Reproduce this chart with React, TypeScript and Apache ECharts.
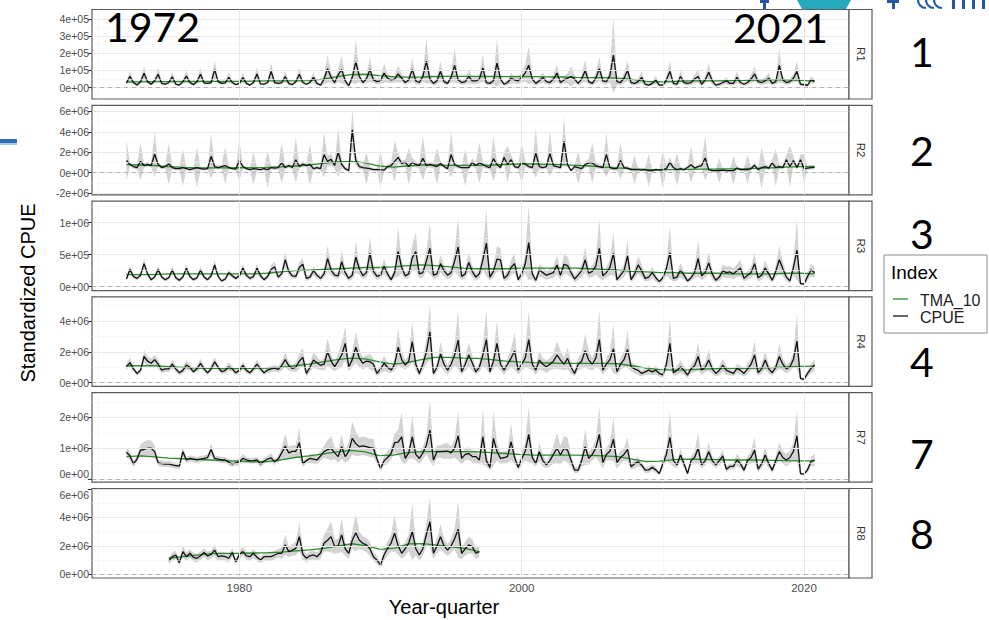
import React, { useEffect, useRef } from "react";
import * as echarts from "echarts";

// ---------------- DATA (quarterly, one line per year, Q1..Q4) ----------------
// R1 values in units of 1e4
const R1_START = 1972;
const R1_CPUE = [
  2.7, 6.6, 3.0, 1.5, 3.5, 8.4, 3.5, 2.0, 4.0, 7.8, 2.5, 2.0, 3.0, 6.3, 2.0, 1.5,
  3.5, 6.7, 3.0, 1.8, 3.5, 7.8, 2.8, 2.5, 3.0, 10.5, 3.5, 2.5, 2.8, 6.0, 3.0, 1.8,
  2.5, 5.8, 2.5, 1.5, 3.0, 8.0, 2.2, 2.0, 3.0, 9.5, 3.0, 2.5, 3.0, 6.5, 2.5, 1.8,
  3.5, 7.8, 3.0, 2.0, 3.0, 6.0, 2.5, 1.5, 5.0, 11.0, 6.0, 3.0, 7.5, 10.5, 4.0, 1.2,
  6.0, 15.0, 6.5, 3.0, 5.0, 10.5, 4.5, 3.5, 4.0, 8.5, 5.5, 4.5, 5.0, 8.0, 5.5, 3.0,
  4.5, 10.5, 4.0, 3.0, 6.5, 15.5, 5.0, 2.5, 4.0, 9.5, 3.5, 2.5, 6.0, 13.0, 4.5, 3.0,
  3.5, 6.5, 4.0, 4.0, 5.0, 11.5, 3.0, 2.5, 4.0, 14.5, 5.0, 2.0, 3.0, 5.5, 4.5, 4.0,
  6.0, 8.5, 13.0, 5.0, 2.5, 4.0, 6.0, 3.5, 3.0, 5.0, 8.5, 3.0, 4.5, 5.5, 6.5, 5.0,
  2.5, 5.0, 10.0, 3.5, 2.5, 5.5, 11.0, 4.0, 3.5, 7.0, 19.0, 3.5, 3.0, 5.5, 10.0, 3.0,
  2.5, 3.5, 6.0, 2.0, 1.5, 2.5, 4.5, 1.5, 1.5, 4.5, 9.5, 2.5, 2.0, 6.5, 3.0, 2.5,
  3.0, 5.0, 6.5, 2.0, 4.5, 9.0, 4.0, 1.5, 2.0, 3.0, 4.0, 2.5, 2.5, 6.0, 3.0, 2.0,
  3.0, 5.0, 8.0, 3.5, 3.0, 4.0, 5.5, 2.5, 3.5, 13.0, 4.5, 3.0, 3.5, 5.5, 9.5, 2.0,
  1.7, 1.4, 4.6, 3.7,
];
const R1_CI = [
  1.0, 3.0, 1.2, 0.8, 1.2, 4.0, 1.2, 0.8, 1.5, 4.0, 1.0, 0.8, 1.0, 3.0, 0.8, 0.6,
  1.2, 3.5, 1.0, 0.8, 1.2, 4.0, 1.0, 0.8, 1.0, 5.5, 1.2, 0.8, 1.0, 3.0, 1.0, 0.6,
  1.0, 3.0, 1.0, 0.6, 1.0, 4.0, 0.8, 0.8, 1.0, 5.0, 1.0, 0.8, 1.0, 3.5, 1.0, 0.6,
  1.2, 4.0, 1.0, 0.8, 1.0, 3.0, 1.0, 0.6, 3.0, 8.0, 3.0, 1.5, 4.0, 8.0, 2.5, 1.0,
  3.0, 13.0, 3.0, 1.5, 2.5, 7.0, 2.0, 1.5, 2.0, 5.5, 2.5, 2.0, 2.0, 5.0, 2.5, 1.5,
  2.0, 7.0, 2.0, 1.5, 3.0, 13.0, 2.5, 1.2, 2.0, 6.0, 1.5, 1.2, 3.0, 10.0, 2.0, 1.5,
  1.5, 4.0, 2.0, 2.0, 2.5, 8.0, 1.5, 1.2, 2.0, 14.0, 2.5, 1.0, 1.5, 3.0, 2.0, 2.0,
  3.0, 5.0, 11.0, 2.5, 1.2, 2.0, 3.0, 1.5, 1.5, 2.5, 5.0, 1.5, 2.0, 3.0, 6.0, 2.5,
  1.2, 2.5, 6.5, 1.5, 1.2, 3.0, 7.0, 2.0, 1.5, 4.0, 22.0, 2.0, 1.5, 3.0, 6.0, 1.5,
  1.2, 1.8, 3.5, 1.0, 0.8, 1.2, 2.5, 0.8, 0.8, 2.5, 6.0, 1.2, 1.0, 3.5, 1.5, 1.2,
  1.5, 2.5, 4.0, 1.0, 2.0, 5.0, 2.0, 0.8, 1.0, 1.5, 2.0, 1.2, 1.2, 3.5, 1.5, 1.0,
  1.5, 2.5, 4.5, 1.5, 1.5, 2.0, 3.0, 1.2, 1.5, 10.0, 2.0, 1.5, 1.5, 2.5, 6.0, 1.0,
  0.8, 0.8, 2.0, 1.5,
];
const R1_TMA = [
  3.3, 3.4, 3.5, 3.5, 3.6, 3.6, 3.7, 3.7, 3.7, 3.8, 3.9, 4.0, 4.0, 4.1, 5.0, 6.4,
  7.6, 7.8, 7.0, 6.4, 6.1, 6.2, 6.5, 6.6, 6.6, 6.6, 6.5, 6.4, 6.5, 6.4, 6.3, 6.2,
  6.0, 5.9, 5.8, 5.5, 4.8, 3.6, 3.4, 3.6, 3.9, 4.0, 4.0, 4.1, 4.2, 4.4, 4.6, 4.6,
  4.2, 3.8,
];

// R2 values in units of 1e5
const R2_START = 1972;
const R2_CPUE = [
  12, 8, 6, 5, 11, 7, 8, 7, 18, 8, 5, 6, 8.5, 5, 4, 4,
  5, 4, 3, 4, 5, 4, 3.5, 4, 16, 6, 5, 6, 7, 5, 4, 3.5,
  12, 6, 4, 3, 4, 3.5, 3, 4, 3, 5, 4.5, 5, 9.5, 5, 7, 5,
  12.7, 6, 8.5, 7, 8, 4, 5, 4, 17.6, 11, 13, 7, 20, 8, 4, 2,
  42, 12, 6, 5, 4.5, 4, 3, 3, 3, 2.5, 6, 7, 11, 15, 9, 10,
  6, 10, 8, 7, 14, 7, 8, 7, 6, 9, 6, 4, 17.6, 8, 6, 5,
  5, 5, 10, 7, 9.5, 8, 6, 5, 13.7, 8, 5, 15, 8, 12.7, 6, 5,
  9.5, 8.5, 6, 5, 19, 6, 5, 6, 18.6, 7, 6, 5, 30.7, 8, 2, 6,
  5, 4, 8, 9.5, 9.5, 7, 6, 5, 17.6, 5, 4, 4, 11.8, 5, 4.5, 3,
  3, 3, 2.5, 3, 2, 2, 3, 2.5, 3, 4, 10, 5, 3, 4, 3, 5,
  7.8, 4.5, 6, 7, 14.4, 3, 2, 2, 2, 2.5, 2, 2, 2, 4.5, 3, 3,
  3, 4, 7.2, 3, 5, 6, 4.5, 9.5, 5, 6, 5, 12.7, 6, 11.8, 5, 12.7,
  4, 4.5, 5, 5.2,
];
const R2_CI = [
  20, 2, 2, 2, 18, 2, 2, 2, 22, 2, 1.5, 2, 20, 2, 1.5, 1.5,
  18, 1.5, 1.5, 1.5, 20, 1.5, 1.5, 1.5, 22, 2, 2, 2, 18, 2, 1.5, 1.5,
  20, 2, 1.5, 1.5, 16, 1.5, 1.5, 1.5, 18, 2, 2, 2, 20, 2, 2, 2,
  22, 2, 3, 2, 20, 2, 2, 2, 22, 5, 6, 3, 24, 4, 2, 1,
  20, 5, 3, 2, 16, 2, 1.5, 1.5, 18, 1.5, 2.5, 3, 20, 5, 3, 3,
  18, 4, 3, 3, 22, 3, 3, 3, 18, 3, 2, 2, 22, 3, 2, 2,
  18, 2, 4, 3, 20, 3, 2, 2, 22, 3, 2, 5, 18, 5, 2, 2,
  20, 3, 2, 2, 24, 3, 2, 2, 22, 3, 2, 2, 24, 3, 1, 2,
  16, 2, 3, 4, 20, 3, 2, 2, 22, 2, 2, 2, 18, 2, 2, 1.5,
  14, 1.5, 1, 1.5, 16, 1, 1.5, 1, 18, 2, 5, 2, 16, 2, 1.5, 2,
  18, 2, 2, 3, 22, 1.5, 1, 1, 12, 1, 1, 1, 14, 2, 1.5, 1.5,
  14, 1.5, 3, 1.5, 20, 2.5, 2, 4, 18, 2.5, 2, 5, 20, 4, 2, 5,
  14, 2, 2, 2,
];
const R2_TMA = [
  7.8, 7.5, 7.0, 6.0, 5.2, 4.8, 4.6, 4.6, 4.8, 5.0, 5.2, 5.6, 6.5, 7.5, 9.0, 10.5,
  11.0, 9.5, 6.5, 5.5, 6.5, 7.5, 7.5, 7.2, 7.2, 7.2, 7.5, 8.0, 8.5, 8.5, 8.2, 7.8,
  7.2, 6.5, 5.5, 4.6, 3.8, 3.2, 3.0, 3.0, 3.2, 3.5, 3.6, 3.8, 4.0, 4.3, 4.8, 5.5,
  6.0, 6.2,
];

// R3 values in units of 1e4
const R3_START = 1972;
const R3_CPUE = [
  12, 27, 16, 13, 18, 36, 20, 11, 15, 27, 15, 11, 14, 26, 14, 10,
  15, 29, 16, 11, 14, 26, 15, 11, 17, 34, 16, 9, 12, 22, 17, 13,
  17, 29, 18, 13, 16, 29, 17, 11, 16, 27, 31, 15, 20, 42, 24, 17,
  16, 30, 35, 13, 15, 25, 18, 13, 20, 44, 26, 18, 17, 39, 22, 13,
  18, 46, 28, 17, 22, 52, 24, 16, 18, 32, 20, 11, 22, 55, 30, 17,
  20, 45, 55, 20, 22, 40, 60, 18, 20, 36, 25, 18, 22, 40, 62, 16,
  20, 38, 24, 15, 20, 42, 68, 15, 24, 43, 42, 13, 18, 30, 36, 11,
  20, 35, 69, 20, 10, 26, 22, 18, 20, 22, 34, 18, 35, 33, 22, 12,
  18, 25, 42, 21, 24, 32, 60, 17, 22, 30, 52, 11, 18, 25, 48, 11,
  20, 34, 25, 13, 15, 22, 14, 8, 14, 28, 53, 13, 15, 26, 18, 9,
  14, 22, 44, 17, 22, 37, 20, 10, 15, 25, 22, 23, 20, 25, 29, 13,
  18, 22, 36, 14, 18, 29, 20, 10, 24, 42, 28, 15, 9, 30, 57, 5,
  4, 16, 26, 22,
];
const R3_CI = [
  3, 6, 3, 3, 4, 8, 4, 3, 3, 6, 3, 3, 3, 6, 3, 3,
  3, 6, 3, 3, 3, 6, 3, 3, 4, 8, 3, 2, 3, 5, 4, 3,
  4, 6, 4, 3, 4, 7, 4, 3, 4, 7, 8, 4, 5, 12, 6, 4,
  4, 8, 10, 4, 4, 7, 5, 4, 6, 20, 8, 5, 5, 18, 7, 4,
  6, 25, 9, 5, 7, 26, 8, 5, 6, 12, 7, 4, 8, 39, 10, 5,
  7, 20, 30, 7, 8, 16, 40, 6, 7, 14, 9, 6, 8, 16, 45, 6,
  7, 15, 9, 6, 7, 16, 52, 6, 9, 20, 18, 5, 7, 12, 15, 4,
  8, 14, 59, 8, 4, 10, 8, 7, 8, 9, 15, 7, 15, 14, 8, 5,
  7, 10, 20, 8, 9, 13, 47, 7, 8, 12, 34, 4, 7, 10, 25, 4,
  8, 14, 10, 5, 6, 9, 6, 3, 5, 11, 41, 5, 6, 11, 7, 3,
  5, 9, 28, 7, 8, 17, 8, 4, 6, 10, 9, 9, 8, 10, 13, 5,
  7, 9, 17, 6, 7, 12, 8, 4, 9, 22, 11, 6, 4, 12, 47, 2,
  2, 7, 10, 8,
];
const R3_TMA = [
  19, 19, 19, 20, 20, 20, 20, 20, 20, 20, 21, 23, 25, 26, 27, 28,
  29, 30, 30, 31, 33, 34, 33, 31, 29, 28, 28, 28, 29, 29, 29, 29,
  29, 28, 27, 26, 24, 23, 22, 22, 21, 21, 21, 20, 20, 20, 20, 21,
  21, 20,
];

// R4 values in units of 1e5
const R4_START = 1972;
const R4_CPUE = [
  10.4, 13, 9, 6, 8, 17, 14, 12.6, 15, 12, 8.2, 9, 9, 12, 9, 6.5,
  8, 11.5, 10, 7.1, 9, 12.5, 9, 6.5, 9, 13.6, 10, 7.1, 8, 10.4, 9, 6.5,
  8, 11.3, 8, 6.5, 9, 12, 9, 6.5, 8.2, 9, 9.5, 8.7, 11, 15, 11, 9.3,
  10, 14, 16.5, 6, 10, 14.7, 13, 11.3, 12, 20, 14, 10.4, 14, 18, 25.5, 10.4,
  15, 23, 16, 12.6, 14, 13.6, 12, 6, 9, 12.6, 10, 8.2, 12, 23, 15, 11.5,
  14, 26.6, 12, 6, 12, 20, 33, 6, 10, 18.6, 12, 8.2, 12, 18, 27.7, 7.1,
  12, 18, 13, 7.1, 10, 18, 28, 7.1, 14, 25.5, 12, 8.2, 12, 16, 20.6, 8.2,
  12, 16, 28, 12, 8.2, 14.7, 12, 10.4, 12, 14, 18, 14.7, 12, 15.8, 10, 6,
  12, 14, 20.8, 14.7, 12, 16, 28, 8.2, 12, 15, 22, 7.1, 12, 15, 21.6, 10.4,
  9, 8, 6, 7, 8.2, 7, 8.2, 6, 5, 12, 25.5, 6.5, 8, 10.4, 8, 5,
  9, 11, 17, 8.2, 10, 14.7, 9, 6, 8, 11.5, 8, 7, 6, 9.3, 8, 6,
  9, 12, 18, 6.5, 9, 14.7, 9, 6.5, 10, 17, 12, 9, 10.4, 15, 27, 2.8,
  2.2, 6, 9.3, 11.5,
];
const R4_CI = [
  2, 3, 2, 1.5, 2, 4, 3, 3, 3, 3, 2, 2, 2, 3, 2, 1.5,
  2, 3, 2, 1.5, 2, 3, 2, 1.5, 2, 3, 2, 1.5, 2, 2.5, 2, 1.5,
  2, 2.5, 2, 1.5, 2, 3, 2, 1.5, 2, 2, 2, 2, 3, 5, 3, 2,
  3, 5, 6, 2, 3, 5, 4, 3, 4, 9, 5, 3, 5, 8, 11, 3,
  5, 10, 6, 4, 4, 5, 4, 2, 3, 5, 3, 2, 4, 12, 5, 3,
  4, 13, 4, 2, 4, 8, 18, 2, 3, 8, 4, 3, 4, 7, 19, 2,
  4, 8, 5, 2, 3, 7, 19, 2, 5, 15, 4, 3, 4, 6, 12, 3,
  4, 6, 19, 4, 3, 6, 4, 4, 4, 5, 9, 6, 4, 7, 4, 2,
  4, 5, 11, 6, 4, 6, 19, 3, 4, 5, 16, 2, 4, 5, 12, 3,
  3, 3, 2, 2, 3, 2, 3, 2, 2, 4, 16, 2, 3, 4, 3, 2,
  3, 4, 9, 3, 3, 7, 3, 2, 3, 4, 3, 2, 2, 3, 3, 2,
  3, 4, 9, 2, 3, 6, 3, 2, 3, 8, 4, 3, 3, 5, 18, 1,
  1, 2, 3, 4,
];
const R4_TMA = [
  11, 11, 11, 10.5, 10, 9.5, 9.3, 9.2, 9.2, 9.3, 9.5, 10, 11, 12, 13.5, 15,
  16, 15.5, 13.5, 12, 13, 15, 16.5, 16.5, 16, 15.8, 15, 14, 13.5, 13, 12.8, 12.6,
  12.5, 12.5, 12.5, 12.3, 11, 9.5, 8.5, 8.2, 8.3, 8.8, 9.2, 9.3, 9.3, 9.5, 9.8, 10.2,
  10.6, 10.8,
];

// R7 values in units of 1e5
const R7_START = 1972;
const R7_CPUE = [
  8.7, 7.6, 4.9, 6.5, 9.4, 9.6, 10, 10, 8.9, 5.3, 5.0, 4.9, 4.9, 4.6, 4.4, 4.2,
  8.9, 6.2, 6.7, 6.5, 6.2, 6.5, 6.7, 7, 9.6, 6.7, 6.5, 6.2, 6.2, 5.5, 4.9, 5.3,
  5.6, 6.7, 6.2, 5.9, 6.0, 6.2, 4.9, 5.8, 6.5, 6.9, 5.6, 6.5, 8.5, 10.7, 8.5, 9.0,
  9.0, 11.8, 5.0, 6.0, 6.7, 6.5, 6.2, 7.5, 8.9, 9.5, 10, 8.5, 7.3, 10.5, 7.3, 9.0,
  13.2, 11.5, 10.5, 10.8, 10.5, 10.2, 10, 6.5, 3.5, 5.9, 7.0, 8.3, 11.8, 12, 13.7, 6.7,
  8.5, 13.7, 8.0, 6.7, 8.5, 11, 15.9, 6.2, 8.9, 8.9, 9.0, 9.1, 8.5, 10, 14, 6.7,
  8.0, 8.3, 7.3, 7.3, 6.2, 13.7, 6, 3.8, 13.2, 9, 6.7, 7.0, 7.3, 12.1, 7, 3.8,
  6.5, 9, 14.5, 7, 5.1, 8.9, 6, 4.6, 6, 8, 10, 7.8, 10, 9.4, 6, 2.9,
  2.9, 6, 10.5, 6.7, 8, 10, 14.5, 5.4, 8, 9, 12.9, 5.4, 7, 8, 9.6, 4.0,
  5, 5.6, 4.5, 2.9, 3, 3.8, 3.0, 1.8, 5, 8, 13.5, 6, 4.6, 7.8, 5, 1.8,
  6, 7, 10, 4.6, 6, 8.9, 6, 4.6, 6, 7.5, 3.2, 4.1, 4.1, 6.2, 5, 2.9,
  6, 7, 9.4, 3.2, 5, 7.8, 5, 2.9, 6, 8.9, 7, 6.2, 7, 9, 14, 1.8,
  1.6, 3, 5.7, 6.2,
];
const R7_CI = [
  1.5, 1.5, 1, 1, 2, 2.5, 2.7, 2.5, 2, 1, 1, 1, 1, 1, 1, 1,
  1.5, 1, 1, 1, 1, 1, 1, 1, 2, 1, 1, 1, 1, 1, 1, 1,
  1, 1.5, 1, 1, 1, 1, 1, 1, 1, 1.5, 1, 1, 2, 4, 2, 2,
  2, 5, 1, 1, 1.5, 1.5, 1.5, 1.5, 2, 3, 4, 2, 2, 4, 2, 3,
  5.4, 4, 3, 3, 3, 3, 3, 1.5, 1, 1.5, 2, 2, 3, 4, 8, 2,
  2, 7, 2, 2, 2, 3, 10, 2, 2, 2, 2.5, 2.5, 2, 3, 8, 2,
  2, 2, 2, 2, 1.5, 9, 2, 1, 9, 3, 2, 2, 2, 6, 2, 1,
  2, 3, 9, 2, 1, 3, 2, 1, 2, 3, 5, 3, 4, 4, 2, 1,
  1, 2, 6, 2, 2, 3, 9, 2, 2, 3, 7, 2, 2, 2, 4, 1,
  1.5, 1.5, 1, 1, 1, 1, 1, 0.5, 1.5, 2, 8.5, 2, 1, 2, 1.5, 0.5,
  1.5, 2, 5, 1, 1.5, 3, 1.5, 1, 1.5, 2, 1, 1, 1, 2, 1.5, 1,
  1.5, 2, 4, 1, 1.5, 2.5, 1.5, 1, 1.5, 3, 2, 2, 2, 3, 8.4, 0.5,
  0.5, 1, 1.5, 2,
];
const R7_TMA = [
  7.3, 7.5, 7.2, 6.8, 6.6, 6.4, 6.2, 6.0, 5.8, 5.6, 5.7, 6.2, 7.0, 7.5, 8.2, 8.8,
  9.3, 8.8, 7.6, 7.8, 8.6, 8.9, 9.0, 8.9, 8.9, 8.8, 8.6, 8.3, 8.0, 7.8, 7.8, 7.8,
  7.8, 7.7, 7.5, 7.3, 6.5, 5.7, 5.8, 6.3, 6.5, 6.4, 6.3, 6.2, 6.2, 6.2, 6.1, 6.0,
  5.9, 5.9,
];

// R8 values in units of 1e5 (1975 Q1 to 1997 Q1)
const R8_START = 1975;
const R8_CPUE = [
  9.4, 12.4, 13.6, 8.2, 16, 12.4, 14.8, 12, 11.3, 13, 15.3, 12.9, 14, 17, 12.4, 13,
  12.4, 11.3, 15.3, 8.9, 14, 16, 13, 12.4, 14.8, 12, 10.1, 12.4, 12.4, 12.4, 13.6, 14.8,
  14.8, 20.7, 16, 17, 18.3, 26.5, 14, 11.3, 13, 13.6, 12.4, 15, 21.8, 24, 26.5, 19.5,
  20, 27.7, 18, 14.8, 24, 29.3, 24, 21.8, 20.7, 18, 12.4, 10, 6.6, 13.6, 18.3, 22,
  28.9, 20, 14.8, 18, 22, 30, 18, 13.6, 18, 28, 37, 14.8, 20, 26.5, 20, 17,
  20, 25, 31.7, 14.8, 18, 20.7, 19.5, 14.8, 16,
];
const R8_CI = [
  2, 3, 3, 2, 4, 3, 3, 3, 3, 3, 3, 3, 3, 4, 3, 3,
  3, 3, 3, 2, 3, 3, 3, 3, 3, 3, 2, 3, 3, 3, 3, 3,
  4, 7, 4, 4, 5, 10, 4, 3, 3, 3, 3, 4, 6, 8, 11, 5,
  5, 12, 5, 4, 6, 13, 6, 5, 5, 5, 3, 3, 2, 4, 5, 6,
  13, 6, 4, 5, 6, 20, 5, 4, 5, 8, 18, 4, 5, 9, 5, 4,
  5, 7, 20, 4, 5, 6, 5, 4, 4,
];
const R8_TMA = [
  11.3, 12.5, 13.5, 14.5, 14.8, 14.8, 15, 15.2, 15.6, 16.5, 17.2, 18.3, 20, 21.5, 20, 17.5,
  18.5, 21.4, 21.6, 20.5, 19.3, 18.3, 16,
];

// Axis tick labels and minor grid values
const X_TICKS = [1980, 2000, 2020];
const X_MINOR = [1970, 1990, 2010];
const R1_TICKS = [0, 1e5, 2e5, 3e5, 4e5];
const R1_MINOR = [0.5e5, 1.5e5, 2.5e5, 3.5e5];
const R2_TICKS = [-2e6, 0, 2e6, 4e6, 6e6];
const R2_MINOR = [-1e6, 1e6, 3e6, 5e6];
const R3_TICKS = [0, 5e5, 1e6];
const R3_MINOR = [2.5e5, 7.5e5, 1.25e6];
const R4_TICKS = [0, 2e6, 4e6];
const R4_MINOR = [1e6, 3e6, 5e6];
const R7_TICKS = [0, 1e6, 2e6];
const R7_MINOR = [0.5e6, 1.5e6, 2.5e6];
const R8_TICKS = [0, 2e6, 4e6, 6e6];
const R8_MINOR = [1e6, 3e6, 5e6];

const STRIP_LABELS = ["R1", "R2", "R3", "R4", "R7", "R8"];
const REGION_NUMBERS = ["1", "2", "3", "4", "7", "8"];
const LEGEND_ITEMS = ["TMA_10", "CPUE"];

// ---------------- LAYOUT ----------------
const GRID_LEFT = 92;
const GRID_W = 757;
const GRID_H = 89.5;
const GRID_TOPS = [9.5, 105.3, 201.1, 296.9, 392.7, 488.5];
const STRIP_W = 23;
const X_MIN = 1969.5625;
const X_MAX = 2023.1875;
const GREEN = "#2d8a2d";
const RIBBON = "#d3d3d3";
const SANS = "Liberation Sans, Arial, sans-serif";
const ANNOT = "Lato, 'Open Sans', sans-serif";
const TOP_Z = 100;

function fmtSci(v: number): string {
  if (v === 0) return "0e+00";
  const e = Math.floor(Math.log10(Math.abs(v)) + 1e-9);
  const m = Math.round(v / Math.pow(10, e));
  return `${m}e${e < 0 ? "-" : "+"}${String(Math.abs(e)).padStart(2, "0")}`;
}

function txt(text: string, x: number, y: number, size: number, family: string, align: string, fill = "#000", rotation = 0) {
  return {
    type: "text", x, y, rotation, z: TOP_Z,
    style: {
      text, fill, fontSize: size, fontFamily: family,
      align, verticalAlign: "middle", textAlign: align, textVerticalAlign: "middle",
    },
  };
}

function buildOption() {
  const panels = [
    { start: R1_START, unit: 1e4, cpue: R1_CPUE, ci: R1_CI, tma: R1_TMA, min: -0.66e5, max: 4.55e5, ticks: R1_TICKS, minor: R1_MINOR },
    { start: R2_START, unit: 1e5, cpue: R2_CPUE, ci: R2_CI, tma: R2_TMA, min: -2.17e6, max: 6.6e6, ticks: R2_TICKS, minor: R2_MINOR },
    { start: R3_START, unit: 1e4, cpue: R3_CPUE, ci: R3_CI, tma: R3_TMA, min: -0.061e6, max: 1.337e6, ticks: R3_TICKS, minor: R3_MINOR },
    { start: R4_START, unit: 1e5, cpue: R4_CPUE, ci: R4_CI, tma: R4_TMA, min: -0.24e6, max: 5.57e6, ticks: R4_TICKS, minor: R4_MINOR },
    { start: R7_START, unit: 1e5, cpue: R7_CPUE, ci: R7_CI, tma: R7_TMA, min: -0.1e6, max: 2.8e6, ticks: R7_TICKS, minor: R7_MINOR },
    { start: R8_START, unit: 1e5, cpue: R8_CPUE, ci: R8_CI, tma: R8_TMA, min: -0.26e6, max: 6.04e6, ticks: R8_TICKS, minor: R8_MINOR },
  ];

  const grids: any[] = [];
  const xAxes: any[] = [];
  const yAxes: any[] = [];
  const series: any[] = [];
  const graphics: any[] = [];
  const last = panels.length - 1;

  panels.forEach((p, i) => {
    const top = GRID_TOPS[i];
    grids.push({
      left: GRID_LEFT, top, width: GRID_W, height: GRID_H,
      show: true, borderColor: "#5a5a5a", borderWidth: 1.2, backgroundColor: "#ffffff",
    });
    xAxes.push({
      type: "value", gridIndex: i, min: X_MIN, max: X_MAX,
      axisLine: { show: false }, splitLine: { show: false },
      axisTick: { show: i === last, customValues: X_TICKS, length: 4, lineStyle: { color: "#333" } },
      axisLabel: {
        show: i === last, customValues: X_TICKS, formatter: (v: number) => String(v),
        color: "#4d4d4d", fontSize: 11.5, fontFamily: SANS, margin: 4,
      },
    });
    yAxes.push({
      type: "value", gridIndex: i, min: p.min, max: p.max,
      axisLine: { show: false }, splitLine: { show: false },
      axisTick: { show: true, customValues: p.ticks, length: 4, lineStyle: { color: "#333" } },
      axisLabel: {
        customValues: p.ticks, formatter: fmtSci, color: "#4d4d4d",
        fontSize: 10.5, fontFamily: SANS, margin: 3,
        verticalAlignMinLabel: i === 4 ? "bottom" : undefined,
        verticalAlignMaxLabel: i === 5 ? "top" : undefined,
      },
    });

    const xs = p.cpue.map((_, k) => p.start + k * 0.25);
    const xEnd = xs[xs.length - 1];
    const ribbon = p.cpue.map((v, k) => [xs[k], (v - (p.ci[k] ?? 0)) * p.unit, (v + (p.ci[k] ?? 0)) * p.unit]);
    const n = p.tma.length;
    const tma = p.tma.map((v, k) => [p.start + (k * (xEnd - p.start)) / (n - 1), v * p.unit]);
    const cpue = p.cpue.map((v, k) => [xs[k], v * p.unit]);

    const gridLines: any[] = [
      ...X_MINOR.map((v) => ({ xAxis: v, lineStyle: { color: "#f3f3f3", width: 0.6, type: "solid" } })),
      ...p.minor.map((v) => ({ yAxis: v, lineStyle: { color: "#f3f3f3", width: 0.6, type: "solid" } })),
      ...X_TICKS.map((v) => ({ xAxis: v, lineStyle: { color: "#e8e8e8", width: 1, type: "solid" } })),
      ...p.ticks.map((v) => ({ yAxis: v, lineStyle: { color: "#e8e8e8", width: 1, type: "solid" } })),
      { yAxis: 0, lineStyle: { color: "#b5b5b5", width: 1, type: [4, 4] } },
    ];

    // invisible carrier series holding the grid lines (drawn under everything)
    series.push({
      type: "line", xAxisIndex: i, yAxisIndex: i, data: cpue,
      symbol: "none", showSymbol: false, silent: true, z: 0,
      lineStyle: { opacity: 0, width: 0 },
      markLine: {
        silent: true, symbol: ["none", "none"], label: { show: false },
        animation: false, data: gridLines,
      },
    });
    // confidence ribbon
    series.push({
      type: "custom", xAxisIndex: i, yAxisIndex: i, coordinateSystem: "cartesian2d",
      data: ribbon, encode: { x: 0, y: [1, 2] }, silent: true, z: 1,
      renderItem: (params: any, api: any) => {
        if (params.dataIndex !== 0) return null;
        const up = ribbon.map((d) => api.coord([d[0], d[2]]));
        const lo = ribbon.map((d) => api.coord([d[0], d[1]])).reverse();
        return { type: "polygon", shape: { points: up.concat(lo) }, style: { fill: RIBBON, stroke: "none" } };
      },
    });
    series.push({
      type: "line", xAxisIndex: i, yAxisIndex: i, data: tma,
      symbol: "none", showSymbol: false, silent: true, z: 3,
      lineStyle: { color: GREEN, width: 1.3 },
    });
    series.push({
      type: "line", xAxisIndex: i, yAxisIndex: i, data: cpue,
      symbol: "none", showSymbol: false, silent: true, z: 4,
      lineStyle: { color: "#111111", width: 1.3 },
    });

    // facet strip
    graphics.push({
      type: "rect", z: TOP_Z, shape: { x: GRID_LEFT + GRID_W, y: top, width: STRIP_W, height: GRID_H },
      style: { fill: "#ffffff", stroke: "#5a5a5a", lineWidth: 1.2 },
    });
    graphics.push(txt(STRIP_LABELS[i], GRID_LEFT + GRID_W + STRIP_W / 2, top + GRID_H / 2, 11.5, SANS, "center", "#333333", -Math.PI / 2));
  });

  // region numbers
  const numY = [51, 150, 233, 361, 453, 533];
  REGION_NUMBERS.forEach((t, i) => graphics.push(txt(t, 922, numY[i], 41, ANNOT, "center")));
  // year annotations
  graphics.push(txt("1972", 105, 26.5, 41, ANNOT, "left"));
  graphics.push(txt("2021", 733, 27.5, 41, ANNOT, "left"));

  // axis titles
  graphics.push(txt("Year-quarter", 444, 607, 20, SANS, "center"));
  graphics.push(txt("Standardized CPUE", 28, 293, 20, SANS, "center", "#000", Math.PI / 2));

  // legend
  graphics.push({
    type: "rect", z: TOP_Z, shape: { x: 884, y: 255, width: 103, height: 78 },
    style: { fill: "#ffffff", stroke: "#8a8a8a", lineWidth: 1 },
  });
  graphics.push(txt("Index", 891, 272, 19, SANS, "left"));
  const legendColors = [GREEN, "#111111"];
  const legendY = [300, 317];
  LEGEND_ITEMS.forEach((t, k) => {
    graphics.push({
      type: "line", z: TOP_Z, shape: { x1: 893, y1: legendY[k] - 1, x2: 908, y2: legendY[k] - 1 },
      style: { stroke: legendColors[k], lineWidth: 1.3 },
    });
    graphics.push(txt(t, 920, legendY[k], 16, SANS, "left", "#222"));
  });

  // decorative fragments of the slide behind the chart
  const deco: any[] = [];
  deco.push({ type: "rect", shape: { x: 0, y: 139, width: 17, height: 4 }, style: { fill: "#2f6fb5" } });
  deco.push({ type: "rect", shape: { x: 0, y: 143, width: 17, height: 2 }, style: { fill: "#a9c8e8" } });
  deco.push({
    type: "polygon", shape: { points: [[797, 0], [851, 0], [846, 9], [802, 9]] },
    style: { fill: "#24a8bc" },
  });
  const blue = "#2458a6";
  deco.push({ type: "rect", shape: { x: 760, y: 0, width: 9, height: 3 }, style: { fill: blue } });
  deco.push({ type: "rect", shape: { x: 763, y: 0, width: 3, height: 9 }, style: { fill: blue } });
  deco.push({ type: "rect", shape: { x: 887, y: 0, width: 12, height: 3 }, style: { fill: blue } });
  deco.push({ type: "rect", shape: { x: 892, y: 0, width: 3, height: 9 }, style: { fill: blue } });
  [918, 926, 934].forEach((cx) => {
    deco.push({
      type: "arc", shape: { cx: cx + 8, cy: 0, r: 8, startAngle: Math.PI * 0.5, endAngle: Math.PI },
      style: { stroke: blue, lineWidth: 2.2, fill: "none" },
    });
  });
  [952, 962, 972, 982].forEach((x) => {
    deco.push({ type: "rect", shape: { x, y: 0, width: 3, height: 9 }, style: { fill: blue } });
  });
  deco.forEach((d) => graphics.push({ ...d, z: TOP_Z }));

  return {
    animation: false,
    backgroundColor: "#ffffff",
    grid: grids,
    xAxis: xAxes,
    yAxis: yAxes,
    series,
    graphic: { elements: graphics },
  };
}

export default function App() {
  const ref = useRef<HTMLDivElement>(null);
  useEffect(() => {
    if (!ref.current) return;
    const chart = echarts.init(ref.current, null, { renderer: "svg" });
    chart.setOption(buildOption() as any);
    return () => chart.dispose();
  }, []);
  return (
    <div
      ref={ref}
      style={{ position: "fixed", left: 0, top: 0, width: 989, height: 620, background: "#fff" }}
    />
  );
}
